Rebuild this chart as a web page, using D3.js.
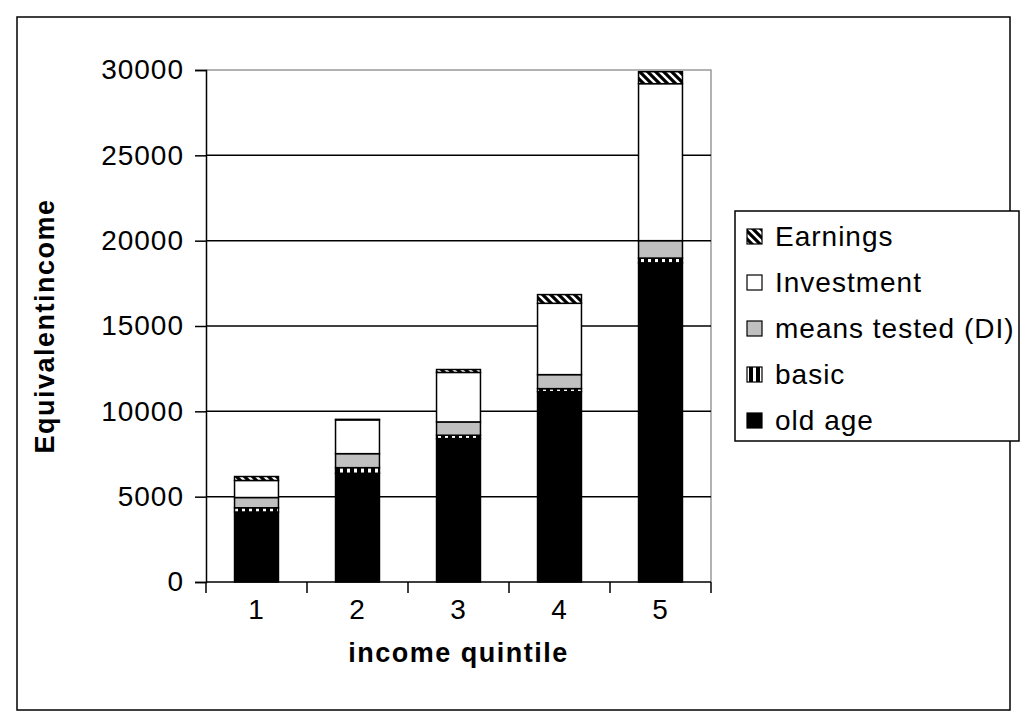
<!DOCTYPE html>
<html>
<head>
<meta charset="utf-8">
<script src="https://cdn.jsdelivr.net/npm/d3@7/dist/d3.min.js"></script>
<style>
  html, body { margin: 0; padding: 0; background: #fff; }
  svg { display: block; font-family: "Liberation Sans", Arial, sans-serif; }
  svg text { letter-spacing: 1px; }
</style>
</head>
<body>
<svg id="chart" width="1027" height="727"></svg>
<script>
// Income composition by quintile (equivalent income)
const quintiles = ["1", "2", "3", "4", "5"];
const oldAge        = [4100, 6370, 8400, 11150, 18700];
const basic         = [250, 330, 200, 180, 280];
const meansTested   = [600, 820, 780, 820, 1020];
const investment    = [1000, 1980, 2900, 4180, 9200];
const earnings      = [230, 30, 170, 510, 700];
const yTicks = [0, 5000, 10000, 15000, 20000, 25000, 30000];

const seriesNames = ["old age", "basic", "means tested (DI)", "Investment", "Earnings"];
const seriesValues = [oldAge, basic, meansTested, investment, earnings];

const svg = d3.select("#chart");
const defs = svg.append("defs");

// diagonal hatch for earnings
const hatch = defs.append("pattern")
  .attr("id", "hatch").attr("patternUnits", "userSpaceOnUse")
  .attr("width", 8).attr("height", 8);
hatch.append("rect").attr("width", 8).attr("height", 8).attr("fill", "#fff");
hatch.append("path")
  .attr("d", "M-2,6 l4,4 M0,0 l8,8 M6,-2 l4,4")
  .attr("stroke", "#000").attr("stroke-width", 3.2);

// vertical stripes for basic pension
const stripes = defs.append("pattern")
  .attr("id", "stripes").attr("patternUnits", "userSpaceOnUse")
  .attr("width", 7).attr("height", 7);
stripes.append("rect").attr("width", 7).attr("height", 7).attr("fill", "#000");
stripes.append("rect").attr("x", 4).attr("width", 3).attr("height", 7).attr("fill", "#fff");

const fills = {
  "old age": "#000",
  "basic": "url(#stripes)",
  "means tested (DI)": "#c0c0c0",
  "Investment": "#fff",
  "Earnings": "url(#hatch)"
};

// outer chart frame
svg.append("rect")
  .attr("x", 17).attr("y", 17).attr("width", 993).attr("height", 693)
  .attr("fill", "none").attr("stroke", "#000").attr("stroke-width", 1.5);

const plot = { left: 206, right: 711, top: 70, bottom: 582 };

const x = d3.scaleBand().domain(quintiles)
  .range([plot.left, plot.right])
  .paddingInner(0.565).paddingOuter(0.2825);
const y = d3.scaleLinear().domain([0, 30000]).range([plot.bottom, plot.top]);

// plot area border (top and right)
svg.append("path")
  .attr("d", `M${plot.left},${plot.top}H${plot.right}V${plot.bottom}`)
  .attr("fill", "none").attr("stroke", "#999").attr("stroke-width", 1.5);

// gridlines
svg.append("g").selectAll("line")
  .data(yTicks.filter(t => t > 0 && t < 30000))
  .join("line")
  .attr("x1", plot.left).attr("x2", plot.right)
  .attr("y1", d => y(d)).attr("y2", d => y(d))
  .attr("stroke", "#000").attr("stroke-width", 1.5);

// stacked data
const rows = quintiles.map((q, i) => {
  const r = { q };
  seriesNames.forEach((s, k) => r[s] = seriesValues[k][i]);
  return r;
});
const stack = d3.stack().keys(seriesNames)(rows);

svg.append("g").selectAll("g")
  .data(stack)
  .join("g")
  .attr("fill", d => fills[d.key])
  .selectAll("rect")
  .data(d => d)
  .join("rect")
  .attr("x", d => x(d.data.q))
  .attr("width", x.bandwidth())
  .attr("y", d => y(d[1]))
  .attr("height", d => y(d[0]) - y(d[1]))
  .attr("stroke", "#000").attr("stroke-width", 1.5);

// y axis
const yAxis = svg.append("g")
  .attr("transform", `translate(${plot.left},0)`)
  .call(d3.axisLeft(y).tickValues(yTicks).tickFormat(d3.format("d")).tickSize(11).tickPadding(11));
yAxis.select(".domain").attr("stroke", "#000").attr("stroke-width", 1.5);
yAxis.selectAll(".tick line").attr("stroke", "#000").attr("stroke-width", 1.5);
yAxis.selectAll("text").attr("font-size", 28).attr("font-family", "Liberation Sans, Arial, sans-serif").attr("fill", "#000");

// x axis with ticks at category boundaries
const xAxisG = svg.append("g");
xAxisG.append("line")
  .attr("x1", plot.left).attr("x2", plot.right)
  .attr("y1", plot.bottom).attr("y2", plot.bottom)
  .attr("stroke", "#000").attr("stroke-width", 1.5);
const boundaries = quintiles.map(q => x(q) - x.step() * x.paddingInner() / 2)
  .concat([plot.right]);
xAxisG.selectAll(".bt")
  .data(boundaries).join("line")
  .attr("x1", d => d).attr("x2", d => d)
  .attr("y1", plot.bottom).attr("y2", plot.bottom + 11)
  .attr("stroke", "#000").attr("stroke-width", 1.5);
xAxisG.selectAll("text")
  .data(quintiles).join("text")
  .attr("x", d => x(d) + x.bandwidth() / 2)
  .attr("y", 619)
  .attr("text-anchor", "middle")
  .attr("font-size", 28)
  .text(d => d);

// axis titles
svg.append("text")
  .attr("x", (plot.left + plot.right) / 2).attr("y", 662)
  .attr("text-anchor", "middle").attr("font-weight", "bold").attr("font-size", 27)
  .style("letter-spacing", "1.5px")
  .text("income quintile");
svg.append("text")
  .attr("transform", `translate(54,${(plot.top + plot.bottom) / 2}) rotate(-90)`)
  .attr("text-anchor", "middle").attr("font-weight", "bold").attr("font-size", 27)
  .style("letter-spacing", "1.5px")
  .text("Equivalentincome");

// legend
const legend = svg.append("g");
legend.append("rect")
  .attr("x", 735).attr("y", 211).attr("width", 284).attr("height", 230)
  .attr("fill", "#fff").attr("stroke", "#000").attr("stroke-width", 1.5);
const legendOrder = seriesNames.slice().reverse();
const items = legend.selectAll(".item")
  .data(legendOrder).join("g")
  .attr("transform", (d, i) => `translate(0,${236 + i * 46})`);
items.append("rect")
  .attr("x", 747).attr("y", -7).attr("width", 15).attr("height", 15)
  .attr("fill", d => fills[d]).attr("stroke", "#000").attr("stroke-width", 1.2);
items.append("text")
  .attr("x", 775).attr("y", 10)
  .attr("font-size", 28)
  .text(d => d);
</script>
</body>
</html>
